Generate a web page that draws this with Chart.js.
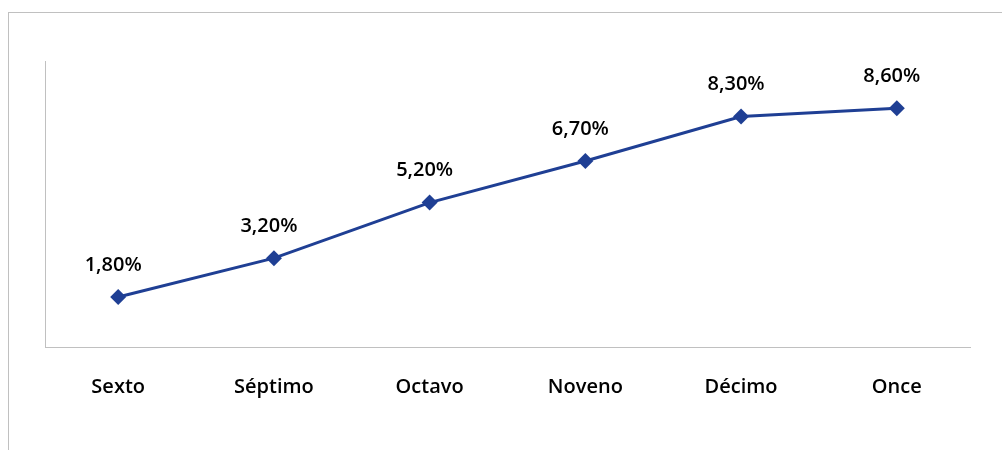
<!DOCTYPE html>
<html>
<head>
<meta charset="utf-8">
<script src="https://cdn.jsdelivr.net/npm/chart.js@4/dist/chart.umd.min.js"></script>
<style>
  html, body { margin: 0; padding: 0; background: #fff; }
  #wrap { position: relative; width: 1002px; height: 450px; overflow: hidden; }
  #frame { position: absolute; left: 8px; top: 12px; width: 1100px; height: 500px;
           border-top: 1px solid #c0c0c0; border-left: 1px solid #c0c0c0; }
  canvas { position: absolute; left: 0; top: 0; }
</style>
</head>
<body>
<div id="wrap">
  <div id="frame"></div>
  <canvas id="c" width="1002" height="450"></canvas>
</div>
<script>
const categories = ["Sexto", "Séptimo", "Octavo", "Noveno", "Décimo", "Once"];
const values = [1.8, 3.2, 5.2, 6.7, 8.3, 8.6];
const valueLabels = ["1,80%", "3,20%", "5,20%", "6,70%", "8,30%", "8,60%"];

const FONT = "'Open Sans', 'Noto Sans', sans-serif";

const labelPlugin = {
  id: 'pointLabels',
  afterDatasetsDraw(chart) {
    const ctx = chart.ctx;
    const meta = chart.getDatasetMeta(0);
    ctx.save();
    ctx.font = "600 20px " + FONT;
    ctx.fillStyle = "#000";
    ctx.textAlign = "center";
    ctx.textBaseline = "middle";
    meta.data.forEach((pt, i) => {
      ctx.fillText(valueLabels[i], pt.x - 5, pt.y - 32);
    });
    ctx.restore();
  }
};

new Chart(document.getElementById('c'), {
  type: 'line',
  data: {
    datasets: [{
      data: values.map((v, i) => ({ x: i, y: v })),
      borderColor: '#1f3f94',
      backgroundColor: '#1f3f94',
      borderWidth: 3,
      pointStyle: 'rectRot',
      pointRadius: 8,
      pointHoverRadius: 8,
      pointBorderWidth: 0,
      tension: 0
    }]
  },
  options: {
    responsive: false,
    animation: false,
    events: [],
    layout: { padding: { top: 61, right: 32, left: 0, bottom: 0 } },
    plugins: { legend: { display: false }, tooltip: { enabled: false } },
    scales: {
      x: {
        type: 'linear',
        min: -0.47, max: categories.length - 1 + 0.47,
        grid: { display: false, drawTicks: false },
        border: { display: true, color: '#c0c0c0', width: 1 },
        afterBuildTicks: s => { s.ticks = categories.map((c, i) => ({ value: i })); },
        ticks: {
          color: '#000', font: { family: FONT, size: 20, weight: '600' }, padding: 28, maxRotation: 0,
          autoSkip: false,
          callback: v => categories[v]
        },
        afterFit: s => { s.height = 103; }
      },
      y: {
        min: 0, max: 10.3,
        grid: { display: false, drawTicks: false },
        border: { display: true, color: '#c0c0c0', width: 1 },
        ticks: { display: false },
        afterFit: s => { s.width = 45; }
      }
    }
  },
  plugins: [labelPlugin]
});
</script>
</body>
</html>
